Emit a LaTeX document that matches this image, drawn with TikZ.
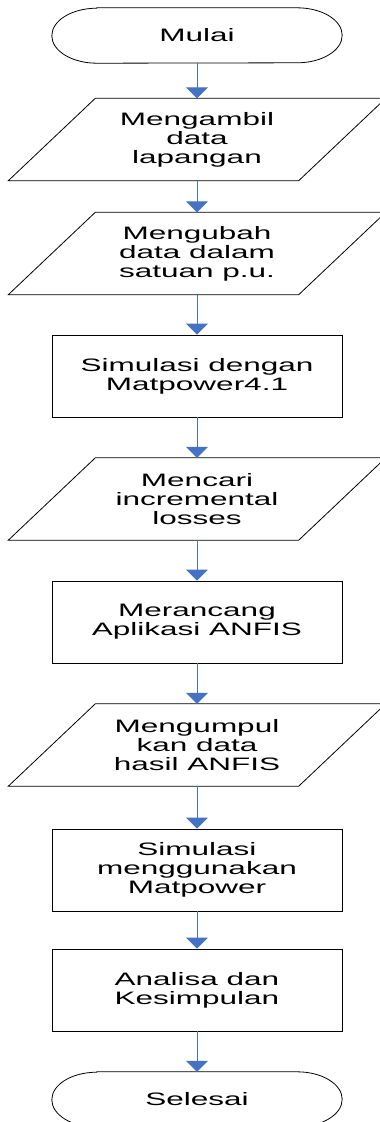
\documentclass[tikz,border=0pt]{standalone}
\usepackage{fontspec}
\setmainfont{Liberation Sans}
\newfontfamily\wfont[FakeStretch=1.75]{Liberation Sans}
\usetikzlibrary{arrows.meta}
\definecolor{arrblue}{HTML}{4472C4}
\tikzset{
  txt/.style={font=\wfont\fontsize{18}{19}\selectfont, align=center, inner sep=0pt},
  boxnode/.style={txt, minimum width=290pt, minimum height=82pt},
  termnode/.style={txt, minimum width=290pt, minimum height=55pt},
  shapeline/.style={draw=black, line width=0.8pt},
  arr/.style={draw=arrblue, line width=1pt, -{Triangle[width=22pt,length=11pt]}, arrblue},
}
\newcommand{\termshape}[1]{%
  \draw[shapeline] ([xshift=45pt]#1.north west) -- ([xshift=-45pt]#1.north east)
    arc[start angle=90,end angle=-90,x radius=45pt,y radius=27.5pt]
    -- ([xshift=45pt]#1.south west)
    arc[start angle=270,end angle=90,x radius=45pt,y radius=27.5pt] -- cycle;}
\newcommand{\parashape}[1]{%
  \draw[shapeline] ([xshift=43.5pt]#1.north west) -- ([xshift=43.5pt]#1.north east)
    -- ([xshift=-43.5pt]#1.south east) -- ([xshift=-43.5pt]#1.south west) -- cycle;}
\begin{document}
\begin{tikzpicture}[x=1pt,y=-1pt]
\useasboundingbox (0,0) rectangle (380,1122);
\node[termnode] (m) at (197,35.5) {Mulai};
\node[boxnode] (p1) at (197,139.5) {Mengambil\\data\\lapangan};
\node[boxnode] (p2) at (197,253.5) {Mengubah\\data dalam\\satuan p.u.};
\node[boxnode,draw,line width=0.8pt] (r1) at (197,376) {Simulasi dengan\\Matpower4.1};
\node[boxnode] (p3) at (197,499) {Mencari\\incremental\\losses};
\node[boxnode,draw,line width=0.8pt] (r2) at (197,622) {Merancang\\Aplikasi ANFIS};
\node[boxnode] (p4) at (197,745) {Mengumpul\\kan data\\hasil ANFIS};
\node[boxnode,draw,line width=0.8pt] (r3) at (197,870) {Simulasi\\menggunakan\\Matpower};
\node[boxnode,draw,line width=0.8pt] (r4) at (197,990) {Analisa dan\\Kesimpulan};
\node[termnode] (s) at (197,1099.5) {Selesai};
\termshape{m}
\termshape{s}
\parashape{p1}
\parashape{p2}
\parashape{p3}
\parashape{p4}
\draw[arr] (m.south) -- (p1.north);
\draw[arr] (p1.south) -- (p2.north);
\draw[arr] (p2.south) -- (r1.north);
\draw[arr] (r1.south) -- (p3.north);
\draw[arr] (p3.south) -- (r2.north);
\draw[arr] (r2.south) -- (p4.north);
\draw[arr] (p4.south) -- (r3.north);
\draw[arr] (r3.south) -- (r4.north);
\draw[arr] (r4.south) -- (s.north);
\end{tikzpicture}
\end{document}
